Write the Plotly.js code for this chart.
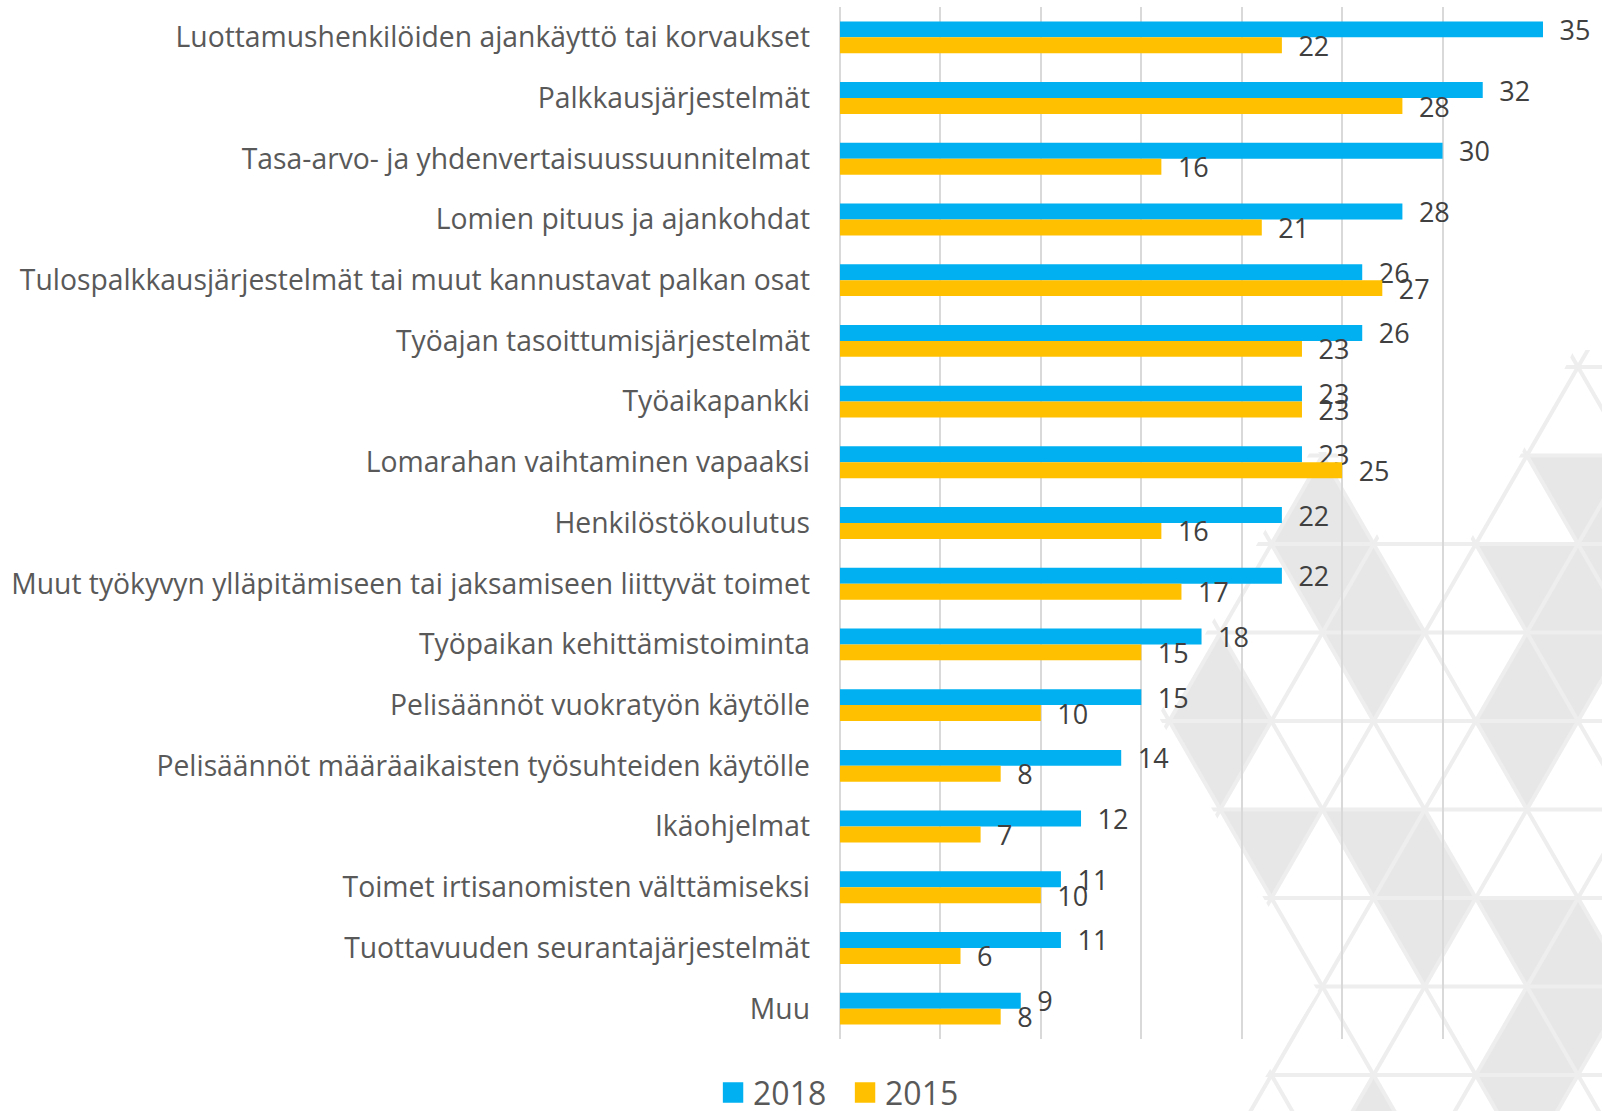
<!DOCTYPE html>
<html>
<head>
<meta charset="utf-8">
<script src="https://cdn.plot.ly/plotly-3.0.1.min.js"></script>
<style>
  html, body { margin: 0; padding: 0; background: #ffffff; }
  #wrap { position: relative; width: 1602px; height: 1111px; }
  #deco { position: absolute; left: 0; top: 0; z-index: 0; }
  #chart { position: absolute; left: 0; top: 0; width: 1602px; height: 1111px; z-index: 1; }
</style>
</head>
<body>
<div id="wrap">
<svg id="deco" width="1602" height="1111" xmlns="http://www.w3.org/2000/svg"></svg>
<div id="chart"></div>
</div>
<script>
const categories = [
  "Luottamushenkilöiden ajankäyttö tai korvaukset",
  "Palkkausjärjestelmät",
  "Tasa-arvo- ja yhdenvertaisuussuunnitelmat",
  "Lomien pituus ja ajankohdat",
  "Tulospalkkausjärjestelmät tai muut kannustavat palkan osat",
  "Työajan tasoittumisjärjestelmät",
  "Työaikapankki",
  "Lomarahan vaihtaminen vapaaksi",
  "Henkilöstökoulutus",
  "Muut työkyvyn ylläpitämiseen tai jaksamiseen liittyvät toimet",
  "Työpaikan kehittämistoiminta",
  "Pelisäännöt vuokratyön käytölle",
  "Pelisäännöt määräaikaisten työsuhteiden käytölle",
  "Ikäohjelmat",
  "Toimet irtisanomisten välttämiseksi",
  "Tuottavuuden seurantajärjestelmät",
  "Muu"
];
const values2018 = [35, 32, 30, 28, 26, 26, 23, 23, 22, 22, 18, 15, 14, 12, 11, 11, 9];
const values2015 = [22, 28, 16, 21, 27, 23, 23, 25, 16, 17, 15, 10, 8, 7, 10, 6, 8];
const seriesNames = ["2018", "2015"];

/* ---- decorative triangle background (template artwork, not data) ---- */
(function drawDeco() {
  const svg = document.getElementById("deco");
  const NS = "http://www.w3.org/2000/svg";
  const S = 102.2, H = 88.5, X0 = 1169.2, Y0 = 367;
  const P = (k, c) => [X0 + c * S / 2, Y0 + k * H];
  const up = (k, c) => [P(k, c), P(k + 1, c - 1), P(k + 1, c + 1)];
  const dn = (k, c) => [P(k, c - 1), P(k, c + 1), P(k + 1, c)];
  const filled = [
    ["U",1,3],["D",1,8],["U",1,9],
    ["D",2,3],["U",2,4],["D",2,7],["U",2,8],["D",2,9],
    ["U",3,1],["D",3,4],["U",3,7],["D",3,8],
    ["D",4,1],["D",4,7],
    ["D",5,2],["D",5,4],["U",5,5],
    ["D",6,5],["D",6,7],["U",6,8],
    ["U",7,7],["D",7,8],
    ["U",8,4],["D",8,7]
  ];
  const defs = document.createElementNS(NS, "defs");
  const cp = document.createElementNS(NS, "clipPath");
  cp.setAttribute("id", "decoClip");
  const cpoly = document.createElementNS(NS, "polygon");
  cpoly.setAttribute("points",
    "1602,350 1574,350 1522,452 1470,540 1380,540 1336,452 1310,452 1158,716 1318,992 1244,1111 1602,1111");
  cp.appendChild(cpoly); defs.appendChild(cp); svg.appendChild(defs);
  const g = document.createElementNS(NS, "g");
  g.setAttribute("clip-path", "url(#decoClip)");
  svg.appendChild(g);
  filled.forEach(([t, k, c]) => {
    const pts = (t === "U" ? up(k, c) : dn(k, c)).map(p => p.join(",")).join(" ");
    const poly = document.createElementNS(NS, "polygon");
    poly.setAttribute("points", pts);
    poly.setAttribute("fill", "#e7e7e7");
    g.appendChild(poly);
  });
  const line = (a, b) => {
    const l = document.createElementNS(NS, "line");
    l.setAttribute("x1", a[0]); l.setAttribute("y1", a[1]);
    l.setAttribute("x2", b[0]); l.setAttribute("y2", b[1]);
    l.setAttribute("stroke", "#eeeeee"); l.setAttribute("stroke-width", "4");
    g.appendChild(l);
  };
  for (let k = 0; k <= 9; k++) line(P(k, -4), P(k, 12));
  for (let s = -12; s <= 24; s += 2) {
    line(P(-1, s + 1), P(10, s - 10));
    line(P(-1, s - 1), P(10, s + 10));
  }
})();

const labelFont = { family: "Open Sans, sans-serif", size: 27, color: "#404040" };

const traces = [
  {
    type: "bar", orientation: "h", name: seriesNames[0],
    y: categories, x: values2018,
    marker: { color: "#00B0F0" },
    text: values2018, texttemplate: "\u2002%{x}", textposition: "outside",
    textfont: labelFont, constraintext: "none", cliponaxis: false,
    hoverinfo: "none"
  },
  {
    type: "bar", orientation: "h", name: seriesNames[1],
    y: categories, x: values2015,
    marker: { color: "#FFC000" },
    text: values2015, texttemplate: "\u2002%{x}", textposition: "outside",
    textfont: labelFont, constraintext: "none", cliponaxis: false,
    hoverinfo: "none"
  }
];

const layout = {
  width: 1602, height: 1111,
  margin: { l: 840, r: 59, t: 7, b: 72 },
  paper_bgcolor: "rgba(0,0,0,0)", plot_bgcolor: "rgba(0,0,0,0)",
  barmode: "group", bargap: 0.475, bargroupgap: 0,
  font: { family: "Open Sans, sans-serif", color: "#595959" },
  xaxis: {
    range: [0, 35], dtick: 5, showticklabels: false,
    showgrid: true, gridcolor: "#d9d9d9", gridwidth: 2,
    zeroline: true, zerolinecolor: "#d9d9d9", zerolinewidth: 2,
    showline: false, ticks: ""
  },
  yaxis: {
    autorange: "reversed", type: "category",
    tickfont: { family: "Open Sans, sans-serif", size: 28.3, color: "#595959" },
    ticks: "", showline: false, showgrid: false, zeroline: false,
    ticklabelstandoff: 29
  },
  showlegend: true,
  legend: {
    orientation: "h", xref: "container", yref: "container",
    x: 0.5275, xanchor: "center", y: 0.0165, yanchor: "middle",
    font: { family: "Open Sans, sans-serif", size: 32, color: "#595959" },
    traceorder: "normal", itemwidth: 30, entrywidth: 87, bgcolor: "rgba(0,0,0,0)"
  }
};

Plotly.newPlot("chart", traces, layout, { displayModeBar: false, staticPlot: true }).then(() => {
  document.querySelectorAll("#chart .legend .legendpoints path").forEach(p => {
    const t = p.getAttribute("transform") || "";
    p.setAttribute("transform", t + " scale(1.7)");
  });
});
</script>
</body>
</html>
